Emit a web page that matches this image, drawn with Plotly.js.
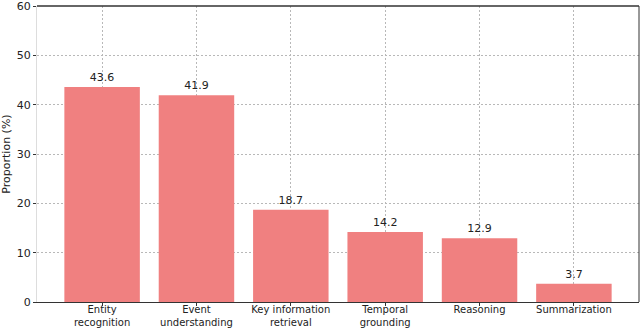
<!DOCTYPE html>
<html>
<head>
<meta charset="utf-8">
<script src="https://cdn.plot.ly/plotly-3.0.1.min.js"></script>
<style>
  html, body { margin: 0; padding: 0; background: #fff; }
  #chart { width: 640px; height: 329px; }
</style>
</head>
<body>
<div id="chart"></div>
<script>
// task categories and their share (%)
var categories = ['Entity<br>recognition', 'Event<br>understanding', 'Key information<br>retrieval',
                  'Temporal<br>grounding', 'Reasoning', 'Summarization']
var proportions = [43.6, 41.9, 18.7, 14.2, 12.9, 3.7]
var yTicks = [0, 10, 20, 30, 40, 50, 60]

var trace = {
    type: 'bar',
    x: categories.map((c, i) => i),
    y: proportions,
    width: 0.8,
    marker: { color: '#f08080', line: { width: 0 } },
    text: proportions.map(v => v.toFixed(1)),
    textposition: 'outside',
    cliponaxis: false,
    textfont: { family: 'DejaVu Sans', size: 11, color: '#222' },
    hoverinfo: 'none'
}

var layout = {
    width: 640,
    height: 329,
    margin: { l: 37, r: 1, t: 6, b: 27 },
    paper_bgcolor: '#fff',
    plot_bgcolor: '#fff',
    showlegend: false,
    font: { family: 'DejaVu Sans', size: 11, color: '#222' },
    xaxis: {
        range: [-0.69, 5.69],
        tickmode: 'array',
        tickvals: categories.map((c, i) => i),
        ticktext: categories,
        ticks: 'outside',
        ticklen: 3,
        tickcolor: '#333',
        tickfont: { size: 10 },
        ticklabelstandoff: -5,
        ticklabeloverflow: 'allow',
        showgrid: true,
        gridcolor: '#b8b8b8',
        griddash: '2px,2px',
        gridwidth: 1,
        showline: true,
        linecolor: '#333',
        linewidth: 1,
        zeroline: false,
        fixedrange: true
    },
    yaxis: {
        range: [0, 60],
        tickmode: 'array',
        tickvals: yTicks,
        ticks: 'outside',
        ticklen: 3,
        tickcolor: '#333',
        ticklabeloverflow: 'allow',
        showgrid: true,
        gridcolor: '#b8b8b8',
        griddash: '2px,2px',
        gridwidth: 1,
        showline: true,
        linecolor: '#ddd',
        linewidth: 1,
        zeroline: false,
        title: { text: 'Proportion (%)', font: { size: 11 }, standoff: 6 },
        fixedrange: true
    },
    shapes: [
        // top and right frame lines
        { type: 'line', xref: 'paper', yref: 'paper', x0: 0, x1: 1, y0: 1, y1: 1,
          line: { color: '#333', width: 1.5 } },
        { type: 'line', xref: 'paper', yref: 'paper', x0: 1, x1: 1, y0: 0, y1: 1,
          line: { color: '#333', width: 1 } }
    ]
}

Plotly.newPlot('chart', [trace], layout, { displayModeBar: false, staticPlot: true })
</script>
</body>
</html>
